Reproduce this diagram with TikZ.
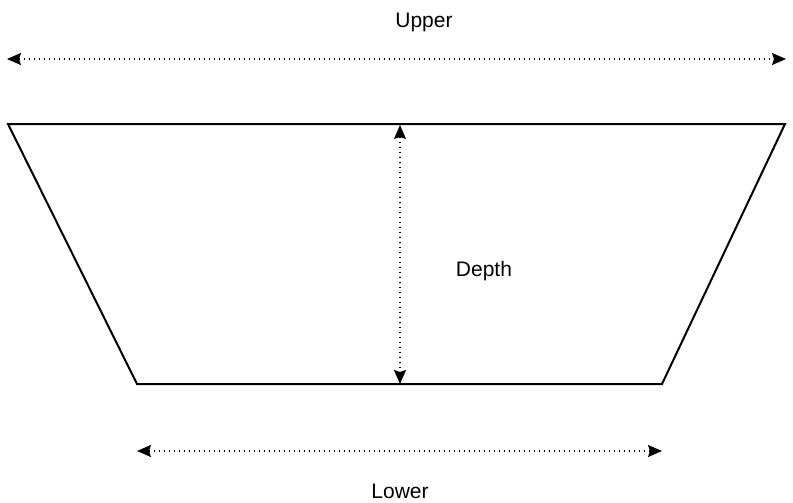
\documentclass[tikz,border=0pt]{standalone}
\usepackage{fontspec}
\setmainfont{Liberation Sans}
\usepackage{tikz}
\usetikzlibrary{arrows.meta,positioning}

\begin{document}
\begin{tikzpicture}[x=1pt,y=-1pt,
        dimline/.style={line width=1.5pt,dash pattern=on 1.5pt off 3.5pt,{Stealth[length=14pt,width=12pt,inset=2pt]}-{Stealth[length=14pt,width=12pt,inset=2pt]}},
        lbl/.style={font=\fontsize{21}{25}\selectfont}]
            \useasboundingbox (0,0) rectangle (793,503);
            % trough
            \draw[line width=2pt,line join=miter] (8,124) coordinate (tl) -- (785,124) coordinate (tr)
                -- (662,384) coordinate (br) -- (137,384) coordinate (bl) -- cycle;
            % measures
            \coordinate (ua) at (7,59);
            \coordinate (ub) at (786,59);
            \coordinate (da) at (400,125);
            \coordinate (db) at (400,384);
            \coordinate (la) at (137,451);
            \coordinate (lb) at (662,451);
            \draw[dimline] (ua) -- (ub);
            \draw[dimline] (da) -- (db);
            \draw[dimline] (la) -- (lb);
            \node[lbl] (upper) at (424,22) {Upper};
            \node[lbl] (depth) at (484,271) {Depth};
            \node[lbl] (lower) at (400,491) {Lower};
        \end{tikzpicture}
\end{document}
